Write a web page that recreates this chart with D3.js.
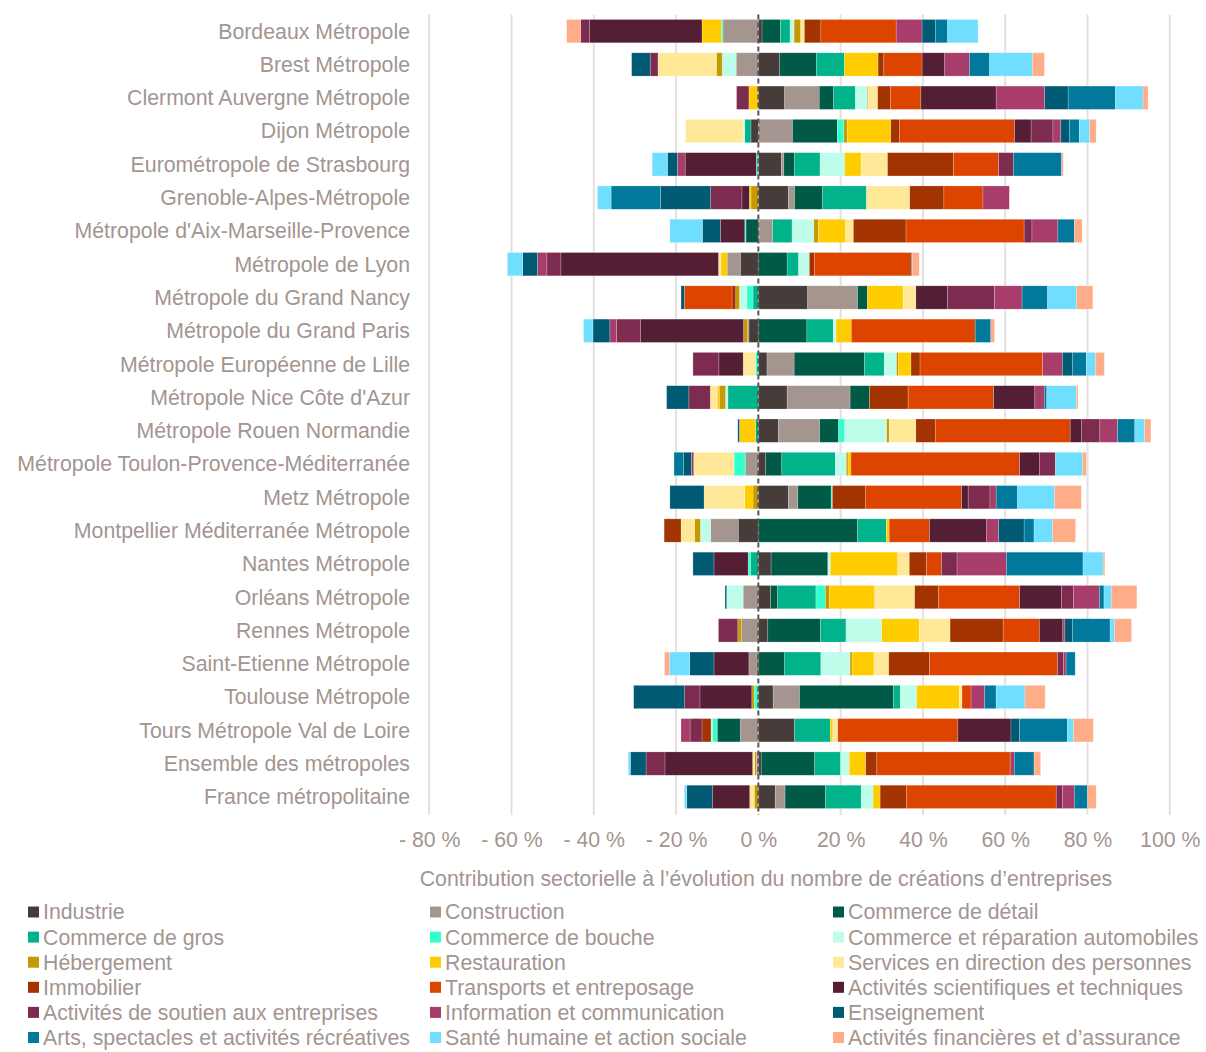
<!DOCTYPE html>
<html>
<head>
<meta charset="utf-8">
<script src="https://cdn.jsdelivr.net/npm/d3@7"></script>
<style>
  body { margin: 0; background: #fff; }
  svg { font-family: "Liberation Sans", Arial, sans-serif; }
</style>
</head>
<body>
<svg id="chart" width="1206" height="1052"></svg>
<script>
// CATEGORIES
const categories = [
  "Bordeaux Métropole", "Brest Métropole", "Clermont Auvergne Métropole", "Dijon Métropole",
  "Eurométropole de Strasbourg", "Grenoble-Alpes-Métropole", "Métropole d'Aix-Marseille-Provence",
  "Métropole de Lyon", "Métropole du Grand Nancy", "Métropole du Grand Paris",
  "Métropole Européenne de Lille", "Métropole Nice Côte d'Azur", "Métropole Rouen Normandie",
  "Métropole Toulon-Provence-Méditerranée", "Metz Métropole", "Montpellier Méditerranée Métropole",
  "Nantes Métropole", "Orléans Métropole", "Rennes Métropole", "Saint-Etienne Métropole",
  "Toulouse Métropole", "Tours Métropole Val de Loire", "Ensemble des métropoles", "France métropolitaine"
]

// SERIES (one value per category, in %)
const industrie      = [0.9, 5.2, 6.4, -1.8, 5.6, 7.3, 0.2, -4.4, 12.0, -2.3, 2.1, 7.0, 4.9, 1.8, 7.3, -4.9, 3.1, 3.0, 2.3, -0.3, 3.6, 8.8, 0.7, 4.1]
const construction   = [-8.6, -5.4, 8.4, 8.3, 0.6, 1.5, 3.3, -3.2, 12.1, -0.3, 6.6, 15.3, 10.0, -3.2, 2.3, -6.7, 0, -3.7, -4.1, -2.0, 6.4, -4.4, -0.5, 2.4]
const commDetail     = [4.5, 8.9, 3.5, 10.9, 2.6, 6.8, -3.0, 7.0, 2.4, 11.8, 17.1, 4.7, 4.6, 3.9, 8.1, 24.1, 13.8, 1.7, 12.8, 6.4, 22.8, -5.6, 13.0, 9.8]
const commGros       = [2.3, 6.8, 5.3, -1.5, 6.2, 10.7, 4.7, 2.8, -1.3, 6.4, 4.8, -7.4, -0.7, 13.0, 0, 7.0, -1.9, 9.3, 6.2, 8.8, 1.7, 8.7, 6.3, 8.7]
const commBouche     = [-0.4, 0, 0, 1.6, -0.5, 0, -0.3, 0, -1.5, 0, -0.7, 0, 1.5, -2.7, 0.3, 0, -0.6, 2.3, 0, 0, -1.0, -1.2, 0, 0]
const commAuto       = [1.0, -3.4, 2.9, -0.4, 6.0, 0, 5.3, 2.6, -1.8, 0.7, 3.0, -0.6, 10.2, 2.7, 0, -2.5, 0.6, -4.0, 8.7, 7.1, 4.0, -0.3, 2.1, 2.9]
const hebergement    = [1.6, -1.4, 0.2, 0.8, 0, -1.8, 1.1, 0, -0.9, -1.0, 0.5, -1.5, 0.6, 0.4, -1.3, -1.4, 0, 1.0, -0.9, 0.5, -0.6, 0, -0.4, -1.0]
const restauration   = [-4.7, 8.2, -2.3, 10.6, 4.0, -0.4, 6.6, -1.5, 8.7, 3.7, 3.0, -0.5, -3.9, 0.7, -2.0, 0.7, 16.4, 11.0, 9.1, 5.3, 10.4, 0.6, 4.0, 1.7]
const services       = [0.9, -14.2, 2.3, -14.0, 6.4, 10.5, 1.9, -0.6, 3.1, 0, -3.0, -1.7, 6.5, -9.8, -9.9, -3.3, 2.8, 9.7, 7.5, 3.6, 0.6, 1.2, -0.5, -1.1]
const immobilier     = [4.0, 1.4, 3.1, 2.1, 16.0, 8.3, 12.8, 1.2, -0.9, 0, 2.2, 9.4, 4.7, 0, 8.0, -4.1, 4.2, 5.8, 12.9, 9.9, 0, -2.2, 2.7, 6.4]
const transports     = [18.3, 9.3, 7.4, 28.0, 11.0, 9.5, 28.7, 23.6, -11.6, 30.1, 29.8, 20.8, 32.8, 41.0, 23.4, 9.8, 3.6, 19.7, 8.8, 31.1, 2.2, 29.2, 32.4, 36.4]
const scientifiques  = [-27.4, 5.5, 18.3, 4.0, -17.3, -1.8, -5.9, -38.3, 7.7, -25.1, -5.9, 10.0, 2.8, 4.8, 1.6, 13.8, -8.3, 10.2, 5.7, -8.5, -12.6, 12.9, -21.3, -9.1]
const soutien        = [-2.1, -1.9, -3.0, 5.3, 3.6, -7.6, 1.9, -3.4, 11.4, -5.8, -6.3, -5.2, 4.4, 3.9, 5.3, 0, 3.8, 2.9, -4.7, 1.5, -3.7, -2.9, -4.6, 1.5]
const information    = [6.3, 6.0, 11.8, 1.9, -1.9, 6.4, 6.3, -2.3, 6.7, -1.6, 4.8, 2.3, 4.3, -0.6, 1.5, 3.0, 12.0, 6.3, 0.5, 0.6, 3.3, -2.2, 1.0, 2.9]
const enseignement   = [3.3, -4.5, 5.7, 2.1, -2.4, -12.2, -4.4, -3.6, -0.8, -4.1, 2.5, -5.4, -0.4, -1.9, -8.3, 6.2, -5.1, -0.4, 1.9, -5.9, -12.4, 2.1, -3.8, -6.2]
const arts           = [2.9, 4.9, 11.5, 2.4, 11.7, -12.0, 4.0, 0.2, 6.2, 3.8, 3.3, 0.6, 4.2, -2.3, 5.2, 2.4, 18.6, 1.1, 9.1, 2.2, 2.8, 11.6, 4.8, 3.2]
const sante          = [7.4, 10.4, 6.7, 2.5, -3.7, -3.3, -7.9, -3.7, 7.0, -2.3, 2.2, 7.2, 2.4, 6.6, 9.0, 4.5, 4.9, 1.8, 1.1, -4.9, 7.0, 1.5, -0.5, -0.6]
const financieres    = [-3.4, 2.9, 1.2, 1.6, 0.4, 0, 1.9, 1.7, 4.0, 0.9, 2.2, 0.4, 1.5, 0.9, 6.5, 5.6, 0.4, 6.2, 4.1, -1.2, 4.9, 4.8, 1.6, 2.1]

const seriesNames = [
  "Industrie", "Construction", "Commerce de détail", "Commerce de gros", "Commerce de bouche",
  "Commerce et réparation automobiles", "Hébergement", "Restauration", "Services en direction des personnes",
  "Immobilier", "Transports et entreposage", "Activités scientifiques et techniques",
  "Activités de soutien aux entreprises", "Information et communication", "Enseignement",
  "Arts, spectacles et activités récréatives", "Santé humaine et action sociale", "Activités financières et d’assurance"
]
const seriesValues = [
  industrie, construction, commDetail, commGros, commBouche, commAuto, hebergement, restauration, services,
  immobilier, transports, scientifiques, soutien, information, enseignement, arts, sante, financieres
]
const seriesColours = [
  "#463c3a", "#a4958f", "#005a46", "#00b38a", "#33ffcc", "#bdfde9", "#c49a00", "#ffcc00", "#ffe999",
  "#a33300", "#dd4400", "#541e35", "#7d2b4e", "#a83c6a", "#005a74", "#00799c", "#70dfff", "#ffad88"
]
const xTicks = [-80, -60, -40, -20, 0, 20, 40, 60, 80, 100]

const textColour = "#a39590"
const fontSize = 21.3

// TABLE FOR D3.STACK
let table = categories.map((c, i) => {
  let row = {label: c}
  seriesNames.forEach((s, j) => row[s] = seriesValues[j][i])
  return row
})

let stacked = d3.stack()
  .keys(seriesNames)
  .offset(d3.stackOffsetDiverging)(table)

let svg = d3.select('#chart')

// SCALES
let x = d3.scaleLinear()
  .domain([-80, 100])
  .range([429.2, 1169.8])
let y = d3.scaleBand()
  .domain(categories)
  .range([14.5, 813.5])
  .paddingInner(0.3)
  .paddingOuter(0.15)

// GRIDLINES
svg.append('g')
  .selectAll('line')
  .data(xTicks.filter(t => t !== 0))
  .join('line')
    .attr('x1', d => x(d))
    .attr('x2', d => x(d))
    .attr('y1', 14.5)
    .attr('y2', 815)
    .attr('stroke', '#e4e0e0')
    .attr('stroke-width', 2)

// BARS
svg.append('g')
  .selectAll('g')
  .data(stacked)
  .join('g')
    .attr('fill', (d, i) => seriesColours[i])
  .selectAll('rect')
  .data(d => d)
  .join('rect')
    .attr('x', d => x(Math.min(d[0], d[1])))
    .attr('width', d => Math.abs(x(d[1]) - x(d[0])))
    .attr('y', d => y(d.data.label))
    .attr('height', y.bandwidth())
    .attr('stroke', '#ffffff')
    .attr('stroke-opacity', 0.35)
    .attr('stroke-width', 0.6)

// ZERO LINE
svg.append('line')
  .attr('x1', x(0))
  .attr('x2', x(0))
  .attr('y1', 14.5)
  .attr('y2', 815)
  .attr('stroke', '#595353')
  .attr('stroke-width', 2)
  .attr('stroke-dasharray', '5,3')

// CATEGORY LABELS
svg.append('g')
  .selectAll('text')
  .data(categories)
  .join('text')
    .attr('x', 410)
    .attr('y', d => y(d) + y.bandwidth() / 2)
    .attr('dy', '0.35em')
    .attr('text-anchor', 'end')
    .attr('fill', textColour)
    .attr('font-size', fontSize)
    .text(d => d)

// X AXIS
let xAxis = d3.axisBottom(x)
  .tickValues(xTicks)
  .tickSize(0)
  .tickFormat(d => d < 0 ? `- ${Math.abs(d)} %` : `${d} %`)

svg.append('g')
  .attr('transform', 'translate(0, 829)')
  .call(xAxis)
  .call(g => g.select('.domain').remove())
  .selectAll('text')
    .attr('fill', textColour)
    .attr('font-size', fontSize)
    .attr('font-family', '"Liberation Sans", Arial, sans-serif')

// X AXIS TITLE
svg.append('text')
  .attr('x', 766)
  .attr('y', 886)
  .attr('text-anchor', 'middle')
  .attr('fill', textColour)
  .attr('font-size', fontSize)
  .text("Contribution sectorielle à l’évolution du nombre de créations d’entreprises")

// LEGEND
let legendCols = [28, 430, 833]
let legend = svg.append('g')
  .selectAll('g')
  .data(seriesNames)
  .join('g')
    .attr('transform', (d, i) => `translate(${legendCols[i % 3]}, ${912 + Math.floor(i / 3) * 25.1})`)

legend.append('rect')
  .attr('x', 0)
  .attr('y', -5.5)
  .attr('width', 11)
  .attr('height', 11)
  .attr('fill', (d, i) => seriesColours[i])

legend.append('text')
  .attr('x', 15)
  .attr('y', 0)
  .attr('dy', '0.35em')
  .attr('fill', textColour)
  .attr('font-size', fontSize)
  .text(d => d)
</script>
</body>
</html>
